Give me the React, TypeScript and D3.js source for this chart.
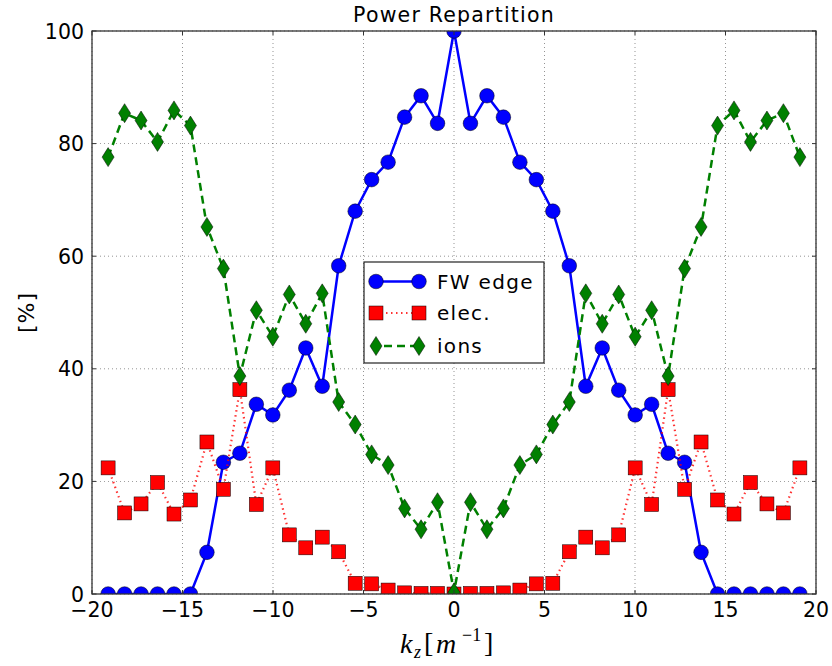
import React from "react";
import * as d3 from "d3";

const kz = [-19.11, -18.2, -17.29, -16.38, -15.47, -14.56, -13.65, -12.74, -11.83, -10.92, -10.01, -9.1, -8.19, -7.28, -6.37, -5.46, -4.55, -3.64, -2.73, -1.82, -0.91, 0, 0.91, 1.82, 2.73, 3.64, 4.55, 5.46, 6.37, 7.28, 8.19, 9.1, 10.01, 10.92, 11.83, 12.74, 13.65, 14.56, 15.47, 16.38, 17.29, 18.2, 19.11];

const fwEdge = [0, 0, 0, 0, 0, 0, 7.4, 23.4, 25.0, 33.7, 31.8, 36.2, 43.7, 36.9, 58.3, 68.0, 73.6, 76.7, 84.7, 88.5, 83.6, 100, 83.6, 88.5, 84.7, 76.7, 73.6, 68.0, 58.3, 36.9, 43.7, 36.2, 31.8, 33.7, 25.0, 23.4, 7.4, 0, 0, 0, 0, 0, 0];

const elec = [22.4, 14.4, 16.0, 19.8, 14.2, 16.7, 27.0, 18.6, 36.3, 15.9, 22.4, 10.5, 8.2, 10.1, 7.5, 1.9, 1.8, 0.7, 0.2, 0.1, 0.1, 0, 0.1, 0.1, 0.2, 0.7, 1.8, 1.9, 7.5, 10.1, 8.2, 10.5, 22.4, 15.9, 36.3, 18.6, 27.0, 16.7, 14.2, 19.8, 16.0, 14.4, 22.4];

const ions = [77.6, 85.4, 84.1, 80.3, 85.9, 83.2, 65.2, 57.8, 38.7, 50.4, 45.7, 53.2, 48.0, 53.4, 34.1, 30.1, 24.8, 22.9, 15.2, 11.5, 16.3, 0.3, 16.3, 11.5, 15.2, 22.9, 24.8, 30.1, 34.1, 53.4, 48.0, 53.2, 45.7, 50.4, 38.7, 57.8, 65.2, 83.2, 85.9, 80.3, 84.1, 85.4, 77.6];

const xTicks = [-20, -15, -10, -5, 0, 5, 10, 15, 20];
const yTicks = [0, 20, 40, 60, 80, 100];
const legendLabels = ["FW edge", "elec.", "ions"];

const W = 832, H = 666;
const L = 92, R = 816, T = 31, B = 594;
const FONT = "DejaVu Sans, sans-serif";
const MATH = "Liberation Serif, DejaVu Serif, serif";

const fmt = (v: number) => (v < 0 ? "\u2212" + Math.abs(v) : String(v));

function Circle({ x, y }: { x: number; y: number }) {
  return <circle cx={x} cy={y} r={7.3} fill="#0000ff" stroke="#000" strokeWidth={0.5} />;
}
function Square({ x, y }: { x: number; y: number }) {
  return <rect x={x - 7} y={y - 7} width={14} height={14} fill="#ff0000" stroke="#000" strokeWidth={0.5} />;
}
function Diamond({ x, y }: { x: number; y: number }) {
  return <path d={`M${x},${y - 9.5}L${x + 6},${y}L${x},${y + 9.5}L${x - 6},${y}Z`} fill="#008000" stroke="#000" strokeWidth={0.5} />;
}

export default function App() {
  const xs = d3.scaleLinear().domain([-20, 20]).range([L, R]);
  const ys = d3.scaleLinear().domain([0, 100]).range([B, T]);
  const line = (vals: number[]) =>
    d3.line<number>().x((_, i) => xs(kz[i])).y((v) => ys(v))(vals) || "";

  const lx1 = 376, lx2 = 419, ltx = 437;
  const lrows = [281.5, 313, 346];

  return (
    <svg width={W} height={H} style={{ position: "absolute", left: 0, top: 0 }}>
      <rect x={0} y={0} width={W} height={H} fill="#fff" />
      <defs>
        <clipPath id="plot">
          <rect x={L} y={T} width={R - L} height={B - T} />
        </clipPath>
      </defs>
      {/* grid */}
      {xTicks.map((t) => (
        <line key={"gx" + t} x1={xs(t)} x2={xs(t)} y1={T} y2={B} stroke="#000" strokeWidth={0.6} strokeDasharray="1,3" opacity={0.7} />
      ))}
      {yTicks.map((t) => (
        <line key={"gy" + t} x1={L} x2={R} y1={ys(t)} y2={ys(t)} stroke="#000" strokeWidth={0.6} strokeDasharray="1,3" opacity={0.7} />
      ))}
      {/* series */}
      <g clipPath="url(#plot)">
        <path d={line(fwEdge)} fill="none" stroke="#0000ff" strokeWidth={2.5} />
        {fwEdge.map((v, i) => <Circle key={"c" + i} x={xs(kz[i])} y={ys(v)} />)}
        <path d={line(elec)} fill="none" stroke="#ff0000" strokeWidth={2.2} strokeDasharray="1.5,3.5" opacity={0.8} />
        {elec.map((v, i) => <Square key={"s" + i} x={xs(kz[i])} y={ys(v)} />)}
        <path d={line(ions)} fill="none" stroke="#008000" strokeWidth={2.5} strokeDasharray="8,5" />
        {ions.map((v, i) => <Diamond key={"d" + i} x={xs(kz[i])} y={ys(v)} />)}
      </g>
      {/* frame */}
      <rect x={L} y={T} width={R - L} height={B - T} fill="none" stroke="#333" strokeWidth={1.3} />
      {/* ticks */}
      {xTicks.map((t) => (
        <g key={"tx" + t}>
          <line x1={xs(t)} x2={xs(t)} y1={B} y2={B - 4} stroke="#333" />
          <line x1={xs(t)} x2={xs(t)} y1={T} y2={T + 4} stroke="#333" />
          <text x={xs(t)} y={B + 23} textAnchor="middle" fontFamily={FONT} fontSize={20.5}>{fmt(t)}</text>
        </g>
      ))}
      {yTicks.map((t) => (
        <g key={"ty" + t}>
          <line x1={L} x2={L + 4} y1={ys(t)} y2={ys(t)} stroke="#333" />
          <line x1={R} x2={R - 4} y1={ys(t)} y2={ys(t)} stroke="#333" />
          <text x={L - 8} y={ys(t) + 7.5} textAnchor="end" fontFamily={FONT} fontSize={20.5}>{fmt(t)}</text>
        </g>
      ))}
      {/* title */}
      <text x={(L + R) / 2} y={22} textAnchor="middle" fontFamily={FONT} fontSize={20.5} letterSpacing={1.2}>Power Repartition</text>
      {/* y label */}
      <text transform={`translate(34,${(T + B) / 2}) rotate(-90)`} textAnchor="middle" fontFamily={FONT} fontSize={22} letterSpacing={1}>[%]</text>
      {/* x label */}
      <text x={400} y={653} fontFamily={MATH} fontSize={28} fontStyle="italic">k</text>
      <text x={414} y={658} fontFamily={MATH} fontSize={18} fontStyle="italic">z</text>
      <text x={424} y={652} fontFamily={MATH} fontSize={28}>[</text>
      <text x={436} y={653} fontFamily={MATH} fontSize={28} fontStyle="italic">m</text>
      <text x={462} y={641} fontFamily={MATH} fontSize={18}>{"\u22121"}</text>
      <text x={484} y={652} fontFamily={MATH} fontSize={28}>]</text>
      {/* legend */}
      <rect x={364} y={262} width={180} height={101} fill="#fff" stroke="#222" strokeWidth={1.2} />
      <line x1={lx1} x2={lx2} y1={lrows[0]} y2={lrows[0]} stroke="#0000ff" strokeWidth={2.5} />
      <Circle x={lx1} y={lrows[0]} />
      <Circle x={lx2} y={lrows[0]} />
      <line x1={lx1} x2={lx2} y1={lrows[1]} y2={lrows[1]} stroke="#ff0000" strokeWidth={2.2} strokeDasharray="1.5,3.5" opacity={0.8} />
      <Square x={lx1} y={lrows[1]} />
      <Square x={lx2} y={lrows[1]} />
      <line x1={lx1} x2={lx2} y1={lrows[2]} y2={lrows[2]} stroke="#008000" strokeWidth={2.5} strokeDasharray="8,5" strokeDashoffset={-8} />
      <Diamond x={lx1} y={lrows[2]} />
      <Diamond x={lx2} y={lrows[2]} />
      {legendLabels.map((s, i) => (
        <text key={s} x={ltx} y={lrows[i] + 7} fontFamily={FONT} fontSize={20} letterSpacing={1.3}>{s}</text>
      ))}
    </svg>
  );
}
